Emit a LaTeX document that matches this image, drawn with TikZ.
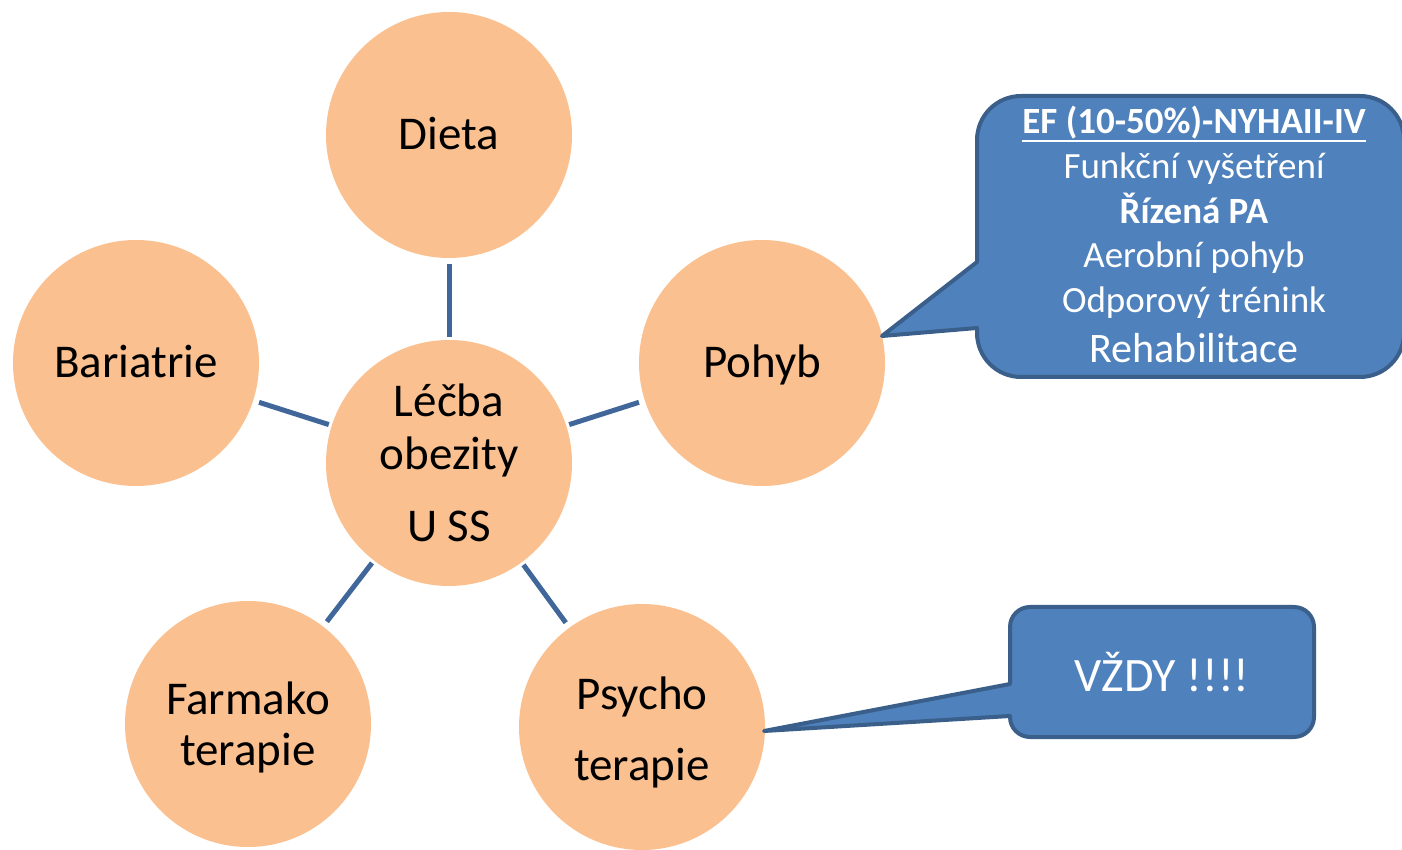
\documentclass[tikz,border=0pt]{standalone}
\usepackage{fontspec}
\setmainfont{Carlito}
\begin{document}
\begin{tikzpicture}[x=1pt,y=1pt,
  bubble/.style={circle, fill=peach, draw=none, minimum size=246pt, inner sep=0pt},
  bigtxt/.style={anchor=base, inner sep=0pt, font=\fontsize{47}{56}\selectfont, text=black},
  calltxt/.style={anchor=base, inner sep=0pt, font=\fontsize{37}{44}\selectfont, text=white},
  link/.style={draw=linkblue, line width=5pt, shorten <=6pt, shorten >=3pt},
  callout/.style={fill=callfill, draw=callborder, line width=4pt, line join=round}
]
\definecolor{peach}{HTML}{FAC090}
\definecolor{linkblue}{HTML}{41679A}
\definecolor{callfill}{HTML}{4F81BD}
\definecolor{callborder}{HTML}{3A5F8B}

\useasboundingbox (0,0) rectangle (1402,849);

% circles
\node[bubble] (dieta)  at (449,714) {};
\node[bubble] (center) at (449,386) {};
\node[bubble] (bari)   at (136,486) {};
\node[bubble] (pohyb)  at (762,486) {};
\node[bubble] (farm)   at (248,125) {};
\node[bubble] (psych)  at (642,122) {};

% spokes
\draw[link] (dieta) -- (center);
\draw[link] (bari)  -- (center);
\draw[link] (pohyb) -- (center);
\draw[link] (farm)  -- (center);
\draw[link] (psych) -- (center);

% circle labels
\node[bigtxt] (dieta-t)  at (449,699) {Dieta};
\node[bigtxt] (bari-t)   at (136,471) {Bariatrie};
\node[bigtxt] (pohyb-t)  at (762,471) {Pohyb};
\node[bigtxt] (center-a) at (449,432) {Léčba};
\node[bigtxt] (center-b) at (449,379) {obezity};
\node[bigtxt] (center-c) at (449,307) {U SS};
\node[bigtxt] (farm-a)   at (248,135) {Farmako};
\node[bigtxt] (farm-b)   at (248,84)  {terapie};
\node[bigtxt] (psych-a)  at (642,140) {Psycho};
\node[bigtxt] (psych-b)  at (642,69)  {terapie};

% callout next to Pohyb
\coordinate (tip1) at (882,513);
\draw[callout] (tip1) -- (977,587) -- (977,709)
  arc[start angle=180, end angle=90, radius=44] -- (1360,753)
  arc[start angle=90, end angle=0, radius=44] -- (1404,516)
  arc[start angle=0, end angle=-90, radius=44] -- (1021,472)
  arc[start angle=270, end angle=180, radius=44] -- (977,521) -- cycle;
\node[calltxt, font=\fontsize{37}{44}\selectfont\bfseries] (ef) at (1194,715) {EF (10-50\%)-NYHAII-IV};
\draw[white, line width=2pt] ([yshift=-7pt]ef.base west) -- ([yshift=-7pt]ef.base east);
\node[calltxt] (c1) at (1194,670) {Funkční vyšetření};
\node[calltxt, font=\fontsize{37}{44}\selectfont\bfseries] (c2) at (1194,625) {Řízená PA};
\node[calltxt] (c3) at (1194,581) {Aerobní pohyb};
\node[calltxt] (c4) at (1194,536) {Odporový trénink};
\node[calltxt, font=\fontsize{42}{50}\selectfont] (c5) at (1194,486) {Rehabilitace};

% callout next to Psycho terapie
\coordinate (tip2) at (764,118);
\draw[callout] (tip2) -- (1010,165) -- (1010,222)
  arc[start angle=180, end angle=90, radius=20] -- (1294,242)
  arc[start angle=90, end angle=0, radius=20] -- (1314,132)
  arc[start angle=0, end angle=-90, radius=20] -- (1030,112)
  arc[start angle=270, end angle=180, radius=20] -- (1010,133) -- cycle;
\node[calltxt, font=\fontsize{48}{58}\selectfont] (vzdy) at (1162,158) {VŽDY !!!!};
\end{tikzpicture}
\end{document}
